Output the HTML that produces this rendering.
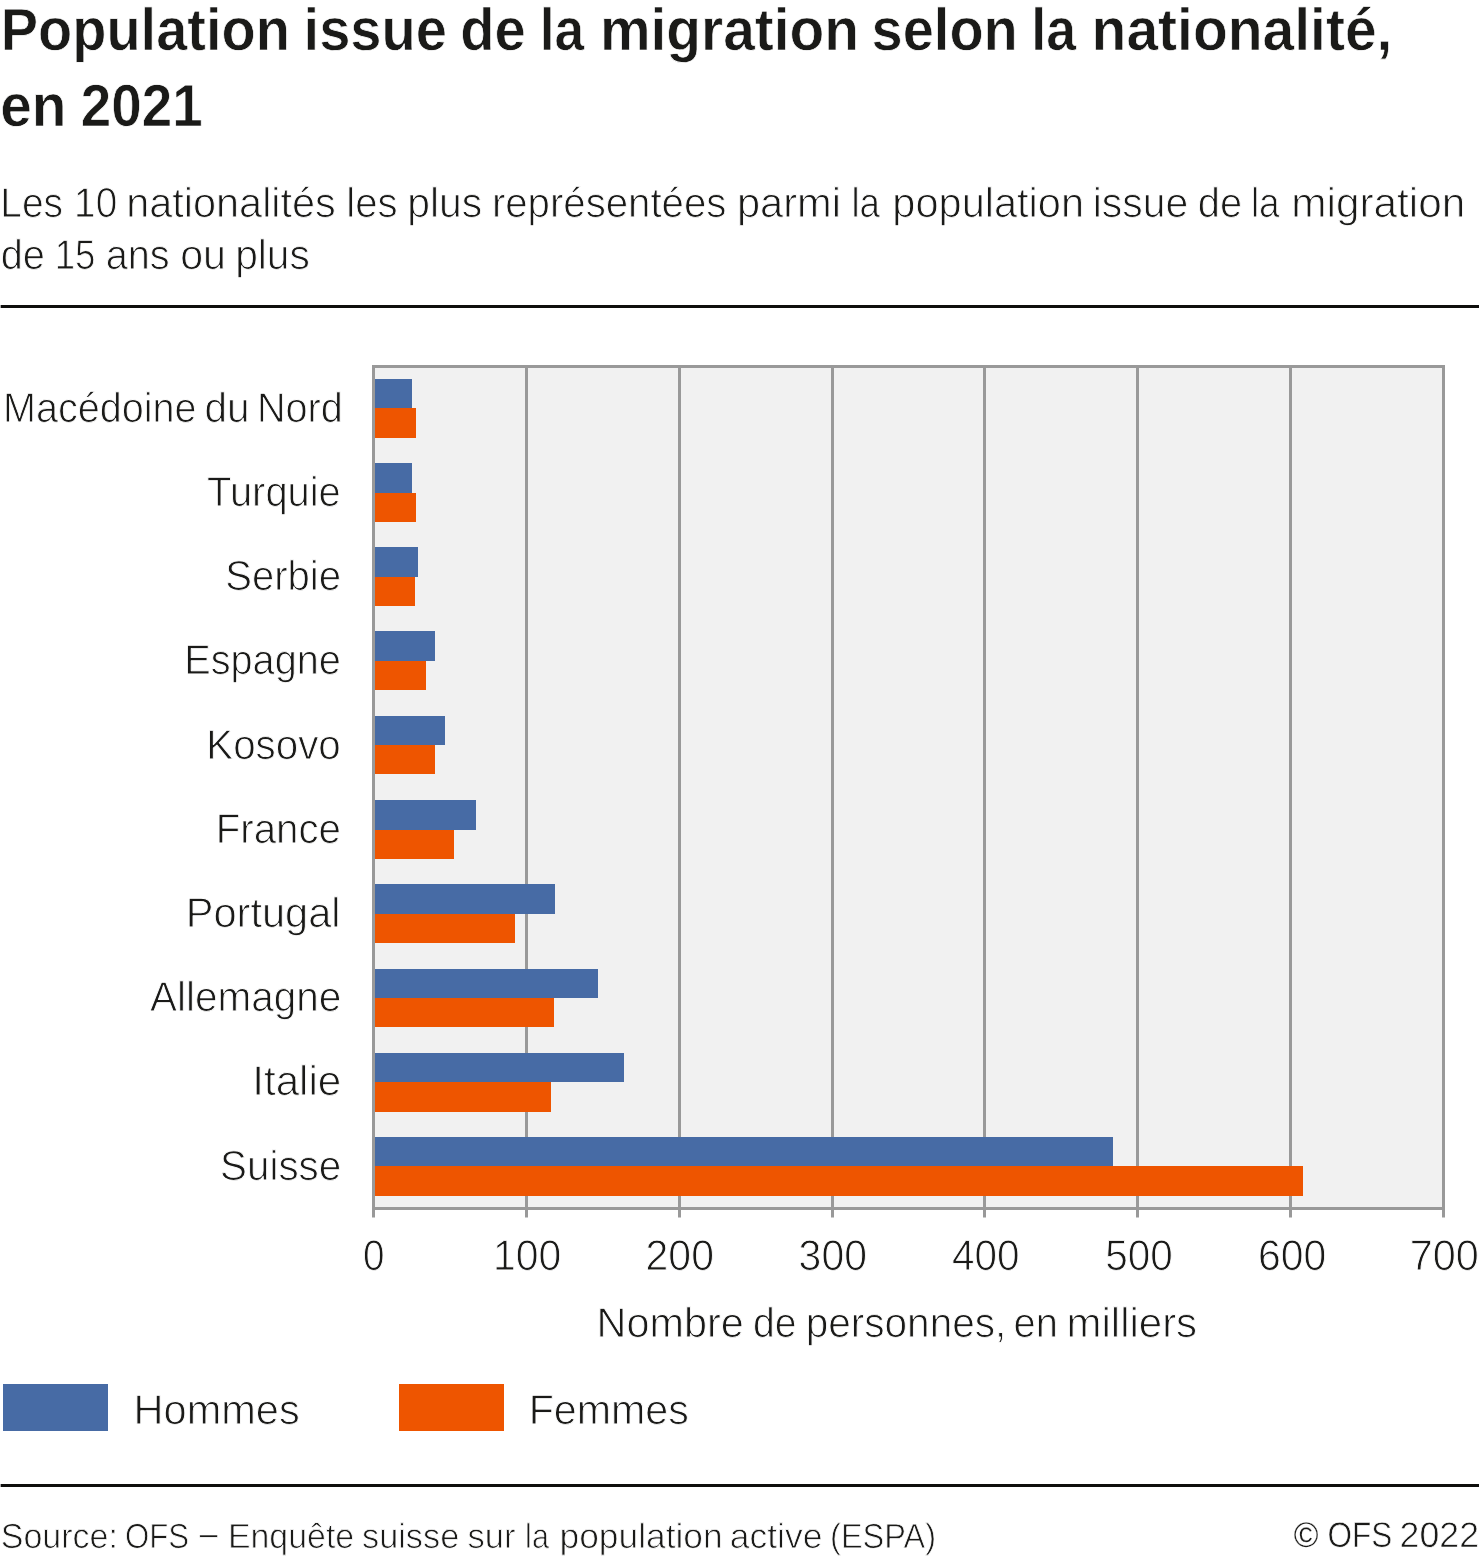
<!DOCTYPE html>
<html lang="fr">
<head>
<meta charset="utf-8">
<title>Population issue de la migration selon la nationalité, en 2021</title>
<style>
html,body{margin:0;padding:0;background:#fff;}
body{width:1479px;height:1557px;overflow:hidden;}
svg{display:block;}
text{font-family:"Liberation Sans", sans-serif;fill:#1a1a18;paint-order:fill stroke;stroke:#fff;stroke-linejoin:round;text-rendering:geometricPrecision;}
.t{font-weight:bold;font-size:59.5px;stroke-width:0.7px;}
.l{font-size:41.8px;stroke-width:0.9px;}
.f{font-size:34.8px;stroke-width:0.8px;}
.d{font-size:42.75px;stroke-width:0.9px;}
</style>
</head>
<body>
<svg width="1479" height="1557" viewBox="0 0 1479 1557">
<rect width="1479" height="1557" fill="#fff"/>
<g id="plot">
<rect x="372" y="365" width="1073" height="845" fill="#f1f1f1"/>
<rect x="372" y="365" width="3" height="852.5" fill="#999999"/>
<rect x="525" y="365" width="3" height="852.5" fill="#999999"/>
<rect x="678" y="365" width="3" height="852.5" fill="#999999"/>
<rect x="831" y="365" width="3" height="852.5" fill="#999999"/>
<rect x="983" y="365" width="3" height="852.5" fill="#999999"/>
<rect x="1136" y="365" width="3" height="852.5" fill="#999999"/>
<rect x="1289" y="365" width="3" height="852.5" fill="#999999"/>
<rect x="1442" y="365" width="3" height="852.5" fill="#999999"/>
<rect x="372" y="365" width="1073" height="3" fill="#999999"/>
<rect x="372" y="1207" width="1073" height="3" fill="#999999"/>
</g>
<g id="bars">
<rect x="375" y="379" width="37" height="29" fill="#476ba5"/>
<rect x="375" y="408" width="41" height="30" fill="#ee5500"/>
<rect x="375" y="463" width="37" height="30" fill="#476ba5"/>
<rect x="375" y="493" width="41" height="29" fill="#ee5500"/>
<rect x="375" y="547" width="43" height="30" fill="#476ba5"/>
<rect x="375" y="577" width="40" height="29" fill="#ee5500"/>
<rect x="375" y="631" width="60" height="30" fill="#476ba5"/>
<rect x="375" y="661" width="51" height="29" fill="#ee5500"/>
<rect x="375" y="716" width="70" height="29" fill="#476ba5"/>
<rect x="375" y="745" width="60" height="29" fill="#ee5500"/>
<rect x="375" y="800" width="101" height="30" fill="#476ba5"/>
<rect x="375" y="830" width="79" height="29" fill="#ee5500"/>
<rect x="375" y="884" width="180" height="30" fill="#476ba5"/>
<rect x="375" y="914" width="140" height="29" fill="#ee5500"/>
<rect x="375" y="969" width="223" height="29" fill="#476ba5"/>
<rect x="375" y="998" width="179" height="29" fill="#ee5500"/>
<rect x="375" y="1053" width="249" height="29" fill="#476ba5"/>
<rect x="375" y="1082" width="176" height="30" fill="#ee5500"/>
<rect x="375" y="1137" width="738" height="29" fill="#476ba5"/>
<rect x="375" y="1166" width="928" height="30" fill="#ee5500"/>
</g>
<g id="legend">
<rect x="3" y="1384" width="105" height="47" fill="#476ba5"/>
<rect x="399" y="1384" width="105" height="47" fill="#ee5500"/>
</g>
<g id="rules">
<rect x="0.65" y="305" width="1478.35" height="3" fill="#0e0e0c"/>
<rect x="0.65" y="1484" width="1478.35" height="3" fill="#0e0e0c"/>
</g>
<text class="t" id="t1"><tspan id="t1w0" x="0.75" y="50" textLength="289.09" lengthAdjust="spacingAndGlyphs">Population</tspan> <tspan id="t1w1" x="303.58" y="50" textLength="143.34" lengthAdjust="spacingAndGlyphs">issue</tspan> <tspan id="t1w2" x="460.14" y="50" textLength="65.60" lengthAdjust="spacingAndGlyphs">de</tspan> <tspan id="t1w3" x="539.75" y="50" textLength="44.54" lengthAdjust="spacingAndGlyphs">la</tspan> <tspan id="t1w4" x="599.92" y="50" textLength="259.21" lengthAdjust="spacingAndGlyphs">migration</tspan> <tspan id="t1w5" x="871.62" y="50" textLength="146.19" lengthAdjust="spacingAndGlyphs">selon</tspan> <tspan id="t1w6" x="1031.27" y="50" textLength="44.71" lengthAdjust="spacingAndGlyphs">la</tspan> <tspan id="t1w7" x="1091.58" y="50" textLength="300.85" lengthAdjust="spacingAndGlyphs">nationalité,</tspan></text>
<text class="t" id="t2"><tspan id="t2w0" x="0.27" y="126" textLength="66.26" lengthAdjust="spacingAndGlyphs">en</tspan> <tspan id="t2w1" x="80.83" y="126" textLength="121.96" lengthAdjust="spacingAndGlyphs">2021</tspan></text>
<text class="l" id="s1"><tspan id="s1w0" x="0.31" y="217" textLength="62.71" lengthAdjust="spacingAndGlyphs">Les</tspan> <tspan id="s1w1" x="74.11" y="217" textLength="43.09" lengthAdjust="spacingAndGlyphs">10</tspan> <tspan id="s1w2" x="126.31" y="217" textLength="209.51" lengthAdjust="spacingAndGlyphs">nationalités</tspan> <tspan id="s1w3" x="346.32" y="217" textLength="51.28" lengthAdjust="spacingAndGlyphs">les</tspan> <tspan id="s1w4" x="407.27" y="217" textLength="74.87" lengthAdjust="spacingAndGlyphs">plus</tspan> <tspan id="s1w5" x="491.89" y="217" textLength="234.50" lengthAdjust="spacingAndGlyphs">représentées</tspan> <tspan id="s1w6" x="736.99" y="217" textLength="103.95" lengthAdjust="spacingAndGlyphs">parmi</tspan> <tspan id="s1w7" x="851.38" y="217" textLength="28.53" lengthAdjust="spacingAndGlyphs">la</tspan> <tspan id="s1w8" x="892.35" y="217" textLength="191.65" lengthAdjust="spacingAndGlyphs">population</tspan> <tspan id="s1w9" x="1092.74" y="217" textLength="95.39" lengthAdjust="spacingAndGlyphs">issue</tspan> <tspan id="s1w10" x="1197.74" y="217" textLength="44.39" lengthAdjust="spacingAndGlyphs">de</tspan> <tspan id="s1w11" x="1250.88" y="217" textLength="28.81" lengthAdjust="spacingAndGlyphs">la</tspan> <tspan id="s1w12" x="1291.24" y="217" textLength="174.11" lengthAdjust="spacingAndGlyphs">migration</tspan></text>
<text class="l" id="s2"><tspan id="s2w0" x="0.79" y="269" textLength="44.18" lengthAdjust="spacingAndGlyphs">de</tspan> <tspan id="s2w1" x="54.77" y="269" textLength="40.69" lengthAdjust="spacingAndGlyphs">15</tspan> <tspan id="s2w2" x="105.70" y="269" textLength="63.97" lengthAdjust="spacingAndGlyphs">ans</tspan> <tspan id="s2w3" x="180.16" y="269" textLength="45.76" lengthAdjust="spacingAndGlyphs">ou</tspan> <tspan id="s2w4" x="235.15" y="269" textLength="74.72" lengthAdjust="spacingAndGlyphs">plus</tspan></text>
<text class="l" id="yl0"><tspan id="yl0w0" x="3.06" y="422" textLength="193.48" lengthAdjust="spacingAndGlyphs">Macédoine</tspan> <tspan id="yl0w1" x="204.51" y="422" textLength="45.09" lengthAdjust="spacingAndGlyphs">du</tspan> <tspan id="yl0w2" x="256.91" y="422" textLength="85.91" lengthAdjust="spacingAndGlyphs">Nord</tspan></text>
<text class="l" id="yl1"><tspan id="yl1w0" x="207.06" y="506" textLength="133.72" lengthAdjust="spacingAndGlyphs">Turquie</tspan></text>
<text class="l" id="yl2"><tspan id="yl2w0" x="225.18" y="590" textLength="115.85" lengthAdjust="spacingAndGlyphs">Serbie</tspan></text>
<text class="l" id="yl3"><tspan id="yl3w0" x="184.26" y="674" textLength="156.58" lengthAdjust="spacingAndGlyphs">Espagne</tspan></text>
<text class="l" id="yl4"><tspan id="yl4w0" x="206.27" y="759" textLength="134.45" lengthAdjust="spacingAndGlyphs">Kosovo</tspan></text>
<text class="l" id="yl5"><tspan id="yl5w0" x="215.75" y="843" textLength="125.18" lengthAdjust="spacingAndGlyphs">France</tspan></text>
<text class="l" id="yl6"><tspan id="yl6w0" x="185.70" y="927" textLength="154.93" lengthAdjust="spacingAndGlyphs">Portugal</tspan></text>
<text class="l" id="yl7"><tspan id="yl7w0" x="149.97" y="1011" textLength="191.24" lengthAdjust="spacingAndGlyphs">Allemagne</tspan></text>
<text class="l" id="yl8"><tspan id="yl8w0" x="252.29" y="1095" textLength="88.99" lengthAdjust="spacingAndGlyphs">Italie</tspan></text>
<text class="l" id="yl9"><tspan id="yl9w0" x="220.10" y="1180" textLength="121.09" lengthAdjust="spacingAndGlyphs">Suisse</tspan></text>
<text class="d" id="xt0"><tspan id="xt0w0" x="363.00" y="1270" textLength="21.49" lengthAdjust="spacingAndGlyphs">0</tspan></text>
<text class="d" id="xt1"><tspan id="xt1w0" x="493.01" y="1270" textLength="68.29" lengthAdjust="spacingAndGlyphs">100</tspan></text>
<text class="d" id="xt2"><tspan id="xt2w0" x="645.58" y="1270" textLength="68.33" lengthAdjust="spacingAndGlyphs">200</tspan></text>
<text class="d" id="xt3"><tspan id="xt3w0" x="798.62" y="1270" textLength="68.32" lengthAdjust="spacingAndGlyphs">300</tspan></text>
<text class="d" id="xt4"><tspan id="xt4w0" x="952.06" y="1270" textLength="67.47" lengthAdjust="spacingAndGlyphs">400</tspan></text>
<text class="d" id="xt5"><tspan id="xt5w0" x="1105.16" y="1270" textLength="67.48" lengthAdjust="spacingAndGlyphs">500</tspan></text>
<text class="d" id="xt6"><tspan id="xt6w0" x="1257.96" y="1270" textLength="68.16" lengthAdjust="spacingAndGlyphs">600</tspan></text>
<text class="d" id="xt7"><tspan id="xt7w0" x="1409.63" y="1270" textLength="69.06" lengthAdjust="spacingAndGlyphs">700</tspan></text>
<text class="l" id="xtitle"><tspan id="xtitlew0" x="596.62" y="1337" textLength="147.05" lengthAdjust="spacingAndGlyphs">Nombre</tspan> <tspan id="xtitlew1" x="753.02" y="1337" textLength="43.59" lengthAdjust="spacingAndGlyphs">de</tspan> <tspan id="xtitlew2" x="805.74" y="1337" textLength="200.55" lengthAdjust="spacingAndGlyphs">personnes,</tspan> <tspan id="xtitlew3" x="1013.59" y="1337" textLength="44.39" lengthAdjust="spacingAndGlyphs">en</tspan> <tspan id="xtitlew4" x="1066.57" y="1337" textLength="130.54" lengthAdjust="spacingAndGlyphs">milliers</tspan></text>
<text class="l" id="lg0"><tspan id="lg0w0" x="133.60" y="1424" textLength="166.13" lengthAdjust="spacingAndGlyphs">Hommes</tspan></text>
<text class="l" id="lg1"><tspan id="lg1w0" x="528.65" y="1424" textLength="160.17" lengthAdjust="spacingAndGlyphs">Femmes</tspan></text>
<text class="f" id="f1"><tspan id="f1w0" x="0.73" y="1548" textLength="117.20" lengthAdjust="spacingAndGlyphs">Source:</tspan> <tspan id="f1w1" x="124.96" y="1548" textLength="64.15" lengthAdjust="spacingAndGlyphs">OFS</tspan> <tspan id="f1w2" style="stroke-width:0.6px" x="199.74" y="1545" textLength="17.85" lengthAdjust="spacingAndGlyphs">–</tspan> <tspan id="f1w3" x="227.93" y="1548" textLength="126.23" lengthAdjust="spacingAndGlyphs">Enquête</tspan> <tspan id="f1w4" x="362.04" y="1548" textLength="97.22" lengthAdjust="spacingAndGlyphs">suisse</tspan> <tspan id="f1w5" x="467.53" y="1548" textLength="47.97" lengthAdjust="spacingAndGlyphs">sur</tspan> <tspan id="f1w6" x="525.08" y="1548" textLength="23.83" lengthAdjust="spacingAndGlyphs">la</tspan> <tspan id="f1w7" x="559.57" y="1548" textLength="163.07" lengthAdjust="spacingAndGlyphs">population</tspan> <tspan id="f1w8" x="729.74" y="1548" textLength="92.77" lengthAdjust="spacingAndGlyphs">active</tspan> <tspan id="f1w9" x="830.05" y="1548" textLength="106.04" lengthAdjust="spacingAndGlyphs">(ESPA)</tspan></text>
<text class="f" id="f2" style="font-size:35.6px;stroke-width:0.65px"><tspan id="f2w0" style="stroke-width:0.2px" x="1293.78" y="1547" textLength="24.74" lengthAdjust="spacingAndGlyphs">©</tspan> <tspan id="f2w1" x="1327.48" y="1547" textLength="64.79" lengthAdjust="spacingAndGlyphs">OFS</tspan> <tspan id="f2w2" x="1399.58" y="1547" textLength="79.42" lengthAdjust="spacingAndGlyphs">2022</tspan></text>
</svg>
</body>
</html>
